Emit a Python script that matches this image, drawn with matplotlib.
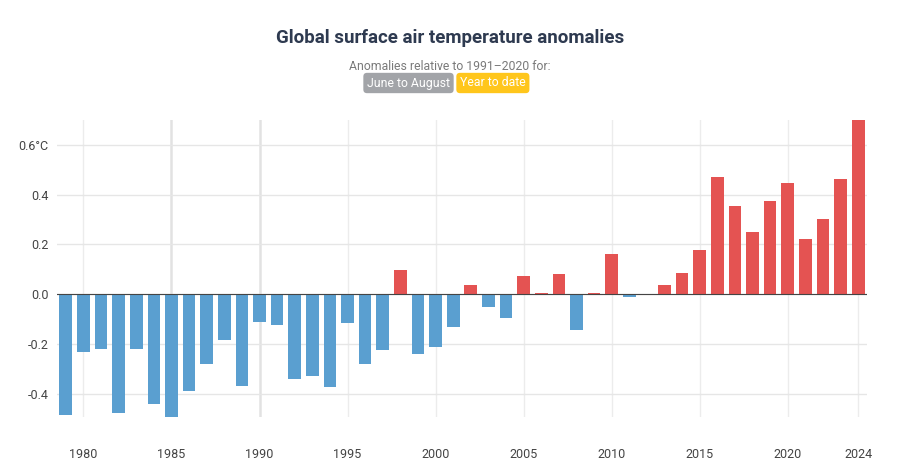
import matplotlib
matplotlib.use("Agg")
import matplotlib.pyplot as plt
import numpy as np

years = list(range(1979, 2025))
anomalies = [
    -0.483, -0.231, -0.219, -0.475, -0.219, -0.439, -0.491, -0.389, -0.281, -0.183,
    -0.369, -0.113, -0.123, -0.341, -0.327, -0.372, -0.117, -0.279, -0.224, 0.099,
    -0.241, -0.211, -0.131, 0.037, -0.052, -0.097, 0.072, 0.005, 0.083, -0.145,
    0.005, 0.161, -0.009, 0.001, 0.037, 0.085, 0.176, 0.473, 0.355, 0.252,
    0.375, 0.445, 0.221, 0.301, 0.463, 0.700,
]
xticks = [1980, 1985, 1990, 1995, 2000, 2005, 2010, 2015, 2020, 2024]
yticks = [-0.4, -0.2, 0.0, 0.2, 0.4, 0.6]
ytick_labels = ["-0.4", "-0.2", "0.0", "0.2", "0.4", "0.6°C"]

title = "Global surface air temperature anomalies"
subtitle = "Anomalies relative to 1991\u20132020 for:"
badge1 = "June to August"
badge2 = "Year to date"

BLUE = "#5a9fd0"
RED = "#e45352"

plt.rcParams['font.family'] = ['Roboto', 'DejaVu Sans']

fig = plt.figure(figsize=(9, 4.68), dpi=100)
ax = fig.add_axes([57/900, 1-417/468, 810/900, 297/468])

colors = [RED if v > 0 else BLUE for v in anomalies]
ax.bar(years, anomalies, width=0.72, color=colors, zorder=3)

ax.set_xlim(1978.5, 2024.5)
ax.set_ylim(-0.493, 0.70)

ax.set_xticks(xticks)
ax.set_xticklabels([str(x) for x in xticks])
ax.set_yticks(yticks)
ax.set_yticklabels(ytick_labels)

for s in ax.spines.values():
    s.set_visible(False)
ax.tick_params(axis='both', length=0, labelsize=9, labelcolor="#444444")
ax.tick_params(axis='x', pad=22)
ax.tick_params(axis='y', pad=6)

ax.grid(True, axis='y', color="#e6e6e6", linewidth=1, zorder=0)
for x in xticks:
    c = "#e2e2e2" if x in (1985, 1990) else "#ececec"
    lw = 1.8 if x in (1985, 1990) else 1
    ax.axvline(x, color=c, linewidth=lw, zorder=0)
ax.axhline(0, color="#444444", linewidth=0.8, zorder=4)

fig.text(0.5, 1-38/468, title, ha='center', va='center', fontsize=13.5,
         fontweight='bold', color="#2e3a50")
fig.text(0.5, 1-67/468, subtitle, ha='center', va='center', fontsize=8.8,
         color="#7a7a7a")
fig.text(450/900, 1-83/468, badge1, ha='right', va='center', fontsize=8.8,
         color="white",
         bbox=dict(boxstyle="round,pad=0.3,rounding_size=0.3", fc="#a2a4a8", ec="none"))
fig.text(460/900, 1-83/468, badge2, ha='left', va='center', fontsize=8.8,
         color="white",
         bbox=dict(boxstyle="round,pad=0.3,rounding_size=0.3", fc="#ffc61c", ec="none"))

fig.savefig("out.png", dpi=100, facecolor="white")
